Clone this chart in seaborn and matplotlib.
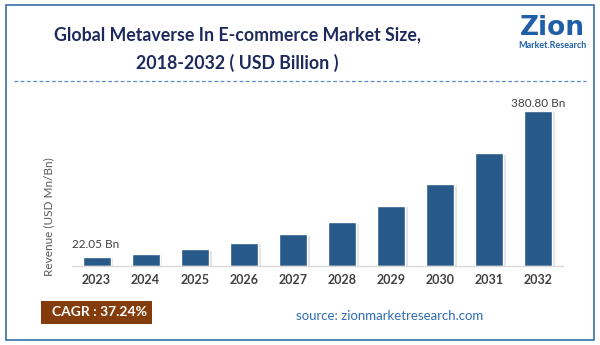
import matplotlib
matplotlib.use("Agg")
import matplotlib.pyplot as plt
import matplotlib.patches as mpatches
import matplotlib.patheffects as pe
import seaborn as sns
import pandas as pd

years = ["2023", "2024", "2025", "2026", "2027", "2028", "2029", "2030", "2031", "2032"]
revenue = [22.05, 30.3, 41.5, 57.0, 78.2, 107.3, 147.3, 202.1, 277.4, 380.8]
first_label = "22.05 Bn"
last_label = "380.80 Bn"
title_lines = ["Global Metaverse In E-commerce Market Size,", "2018-2032 ( USD Billion )"]
cagr_text = "CAGR : 37.24%"
source_text = "source: zionmarketresearch.com"
ylabel = "Revenue (USD Mn/Bn)"

df = pd.DataFrame({"year": years, "revenue": revenue})

sns.set_theme(style="white")
plt.rcParams["font.family"] = ["Lato", "DejaVu Sans"]

W, H = 600, 345
fig = plt.figure(figsize=(6, 3.45), dpi=100)
fig.patch.set_facecolor("white")

ax = fig.add_axes([72 / W, 1 - 266 / H, (563 - 72) / W, (266 - 100) / H])
sns.barplot(data=df, x="year", y="revenue", color="#285a89", width=0.57,
            saturation=1, ax=ax)
for p in ax.patches:
    p.set_path_effects([pe.SimplePatchShadow(offset=(2, -1), shadow_rgbFace="#b0b0b0", alpha=0.35),
                        pe.Normal()])
ax.set_xlim(-0.5, 9.5)
ax.set_ylim(0, 408)
ax.set_xlabel("")
ax.set_ylabel("")
ax.set_yticks([])
for s in ["left", "right", "top"]:
    ax.spines[s].set_visible(False)
ax.spines["bottom"].set_color("#d9d9d9")
ax.spines["bottom"].set_linewidth(1.0)
ax.tick_params(axis="x", length=0, pad=6, labelsize=9, labelcolor="#404040")
for t in ax.get_xticklabels():
    t.set_fontweight("bold")

ax.text(0 - 0.5, revenue[0] + 18, first_label, ha="left", va="bottom",
        fontsize=8.5, color="#404040")
ax.text(9, revenue[-1] + 6, last_label, ha="center", va="bottom",
        fontsize=8.5, color="#404040")

# y label
fig.text(49 / W, 1 - 217 / H, ylabel, rotation=90, ha="center", va="center",
         fontsize=8.5, color="#595959")

# frame
fig.add_artist(mpatches.Rectangle((6 / W, 5 / H), 588 / W, 335 / H, transform=fig.transFigure,
                                  fill=False, edgecolor="#3a6ea5", linewidth=1.2))
# dashed line
fig.add_artist(plt.Line2D([14 / W, 586 / W], [1 - 81 / H, 1 - 81 / H], transform=fig.transFigure,
                          color="#5b8ac4", linewidth=0.9, linestyle=(0, (3, 2))))

# title
fig.text(237 / W, 1 - 35 / H, title_lines[0], ha="center", va="center",
         fontsize=12.8, fontweight="bold", color="#1f2a5c")
fig.text(237 / W, 1 - 63 / H, title_lines[1], ha="center", va="center",
         fontsize=12.8, fontweight="bold", color="#1f2a5c")

# logo
fig.text(552 / W, 1 - 28 / H, "Zion", ha="center", va="center",
         fontsize=19, fontweight="bold", color="#1f5fa8", family=["DejaVu Sans"])
fig.text(552 / W, 1 - 46 / H, "Market.Research", ha="center", va="center",
         fontsize=6.5, fontweight="bold", color="#1f5fa8")

# CAGR box
fig.add_artist(mpatches.Rectangle((41 / W, 1 - 324 / H), 111 / W, 23 / H, transform=fig.transFigure,
                                  facecolor="#843c0c", edgecolor="none"))
fig.text(99 / W, 1 - 312.5 / H, cagr_text, ha="center", va="center",
         fontsize=10, fontweight="bold", color="white")

fig.text(390 / W, 1 - 316 / H, source_text, ha="center", va="center",
         fontsize=9.5, color="#2e6db4")

fig.savefig("out.png", dpi=100)
